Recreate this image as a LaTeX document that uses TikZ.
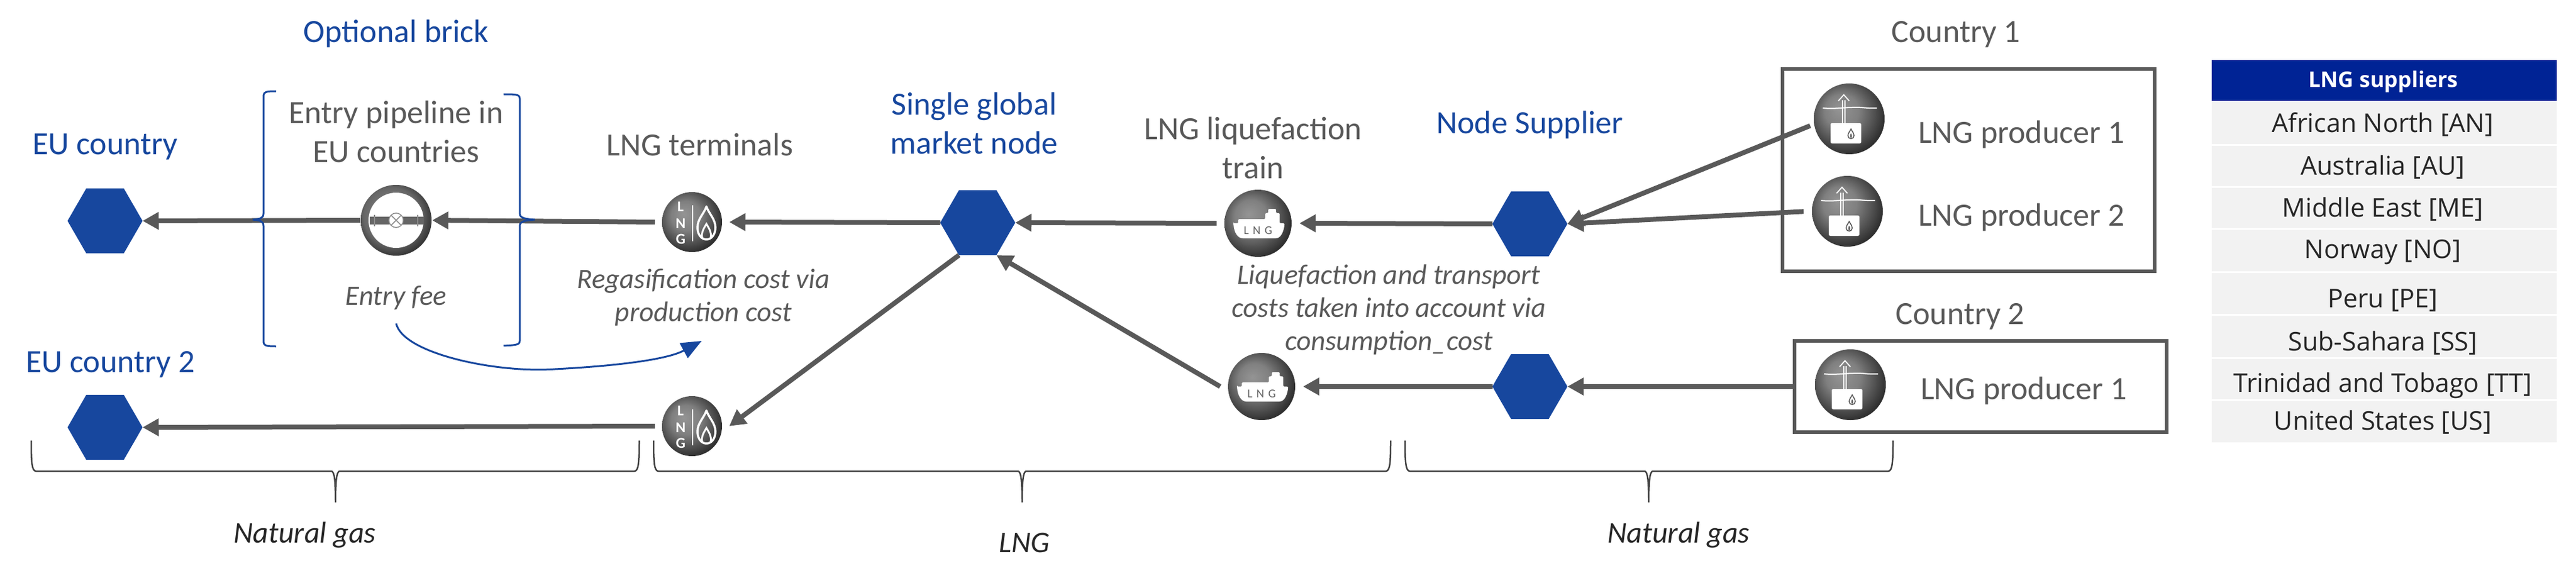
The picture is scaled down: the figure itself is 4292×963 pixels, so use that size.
\documentclass[tikz,border=0pt]{standalone}
\usepackage{fontspec}
\setmainfont{Carlito}
\newfontfamily\tablefont{Open Sans}
\usetikzlibrary{arrows.meta,shapes.geometric}
\definecolor{bluehex}{HTML}{17479E}
\definecolor{arrowgrey}{HTML}{595959}
\definecolor{textgrey}{HTML}{595959}
\definecolor{darktext}{HTML}{262626}
\definecolor{tablehead}{HTML}{002395}
\definecolor{tablerow}{HTML}{F2F2F2}
\pgfdeclareradialshading{iconball}{\pgfpoint{-7bp}{7bp}}{color(0bp)=(black!42);color(12bp)=(black!50);color(25bp)=(black!75);color(30bp)=(black!85);color(50bp)=(black!85)}
\pgfdeclareradialshading{ringball}{\pgfpoint{-5bp}{5bp}}{color(0bp)=(black!45);color(20bp)=(black!60);color(30bp)=(black!85);color(50bp)=(black!85)}
\tikzset{
  hexnode/.style={regular polygon,regular polygon sides=6,fill=bluehex,draw=none,inner sep=0pt,outer sep=0pt,minimum size=125pt},
  termball/.style={circle,shading=iconball,inner sep=0pt,minimum size=100pt,outer sep=12pt},
  shipball/.style={circle,shading=iconball,inner sep=0pt,minimum size=112pt,outer sep=13pt},
  prodball/.style={circle,shading=iconball,inner sep=0pt,minimum size=118pt,outer sep=7pt},
  valveball/.style={circle,shading=ringball,inner sep=0pt,minimum size=118pt,outer sep=1pt},
  flowarrow/.style={draw=arrowgrey,line width=8pt,-{Triangle[length=27pt,width=28pt]}},
  bluelabel/.style={text=bluehex,font=\fontsize{54}{65}\selectfont,align=center,inner sep=0pt},
  greylabel/.style={text=textgrey,font=\fontsize{54}{65}\selectfont,align=center,inner sep=0pt},
  notelabel/.style={text=textgrey,font=\fontsize{47}{55}\selectfont\itshape,align=center,inner sep=0pt},
  spanlabel/.style={text=darktext,font=\fontsize{50}{60}\selectfont\itshape,align=center,inner sep=0pt},
  countrybox/.style={draw=arrowgrey,line width=6pt,fill=none,inner sep=0pt,outer sep=0pt},
  spanbrace/.style={draw=black!75,line width=2.5pt},
  bracket/.style={draw=bluehex,line width=3pt},
  tabletext/.style={text=darktext,font=\tablefont\fontsize{43}{50}\selectfont,inner sep=0pt},
  icontext/.style={text=white,font=\bfseries\fontsize{25}{25}\selectfont,inner sep=0pt},
  termicon/.pic={
    \node[icontext] (l) at (-19,-26) {L};
    \node[icontext] (n) at (-19,2) {N};
    \node[icontext] (g) at (-19,28) {G};
    \draw[white,line width=2.5pt] (1,-28) -- (1,32);
    \draw[white,line width=3.5pt,line join=round] (24,-26) .. controls (28,-14) and (39,-5) .. (39,9) .. controls (39,21) and (32,29) .. (24,29) .. controls (16,29) and (9,21) .. (9,9) .. controls (9,-5) and (20,-14) .. (24,-26) -- cycle;
    \draw[white,line width=3pt] (17,26) .. controls (15,17) and (20,10) .. (24,3) .. controls (28,10) and (33,17) .. (31,26);
  },
  shipicon/.pic={
    \fill[white,rounded corners=1.5pt] (-41,0) -- (-33,0) -- (-33,-7) -- (12,-7) -- (12,-17) -- (17,-17) -- (17,-24) -- (30,-24) -- (30,-17) -- (36,-17) -- (36,0) -- (44,0) -- (44,4) .. controls (42,15) and (38,25) .. (28,25) -- (-24,25) .. controls (-34,25) and (-40,15) .. (-41,0) -- cycle;
    \node[text=black!60,font=\fontsize{20}{20}\selectfont,inner sep=0pt] (t) at (0,12) {L\,\,N\,\,G};
  },
  prodicon/.pic={
    \draw[white,line width=1.6pt] (-11,-31) -- (-11,8) (-7,-31) -- (-7,8);
    \draw[white,line width=1.8pt] (-18,-30) -- (-9,-40) -- (0,-30);
    \draw[white,line width=2pt] (-44,-18) .. controls (-25,-16) and (-10,-19) .. (5,-19) .. controls (20,-20) and (30,-17) .. (46,-18);
    \fill[white,rounded corners=2.5pt] (-31,7) rectangle (20,41);
    \draw[black!65,line width=1.6pt] (3,17) .. controls (5,21) and (8,24) .. (8,28) .. controls (8,31) and (6,33) .. (3,33) .. controls (0,33) and (-2,31) .. (-2,28) .. controls (-2,24) and (1,21) .. (3,17) -- cycle;
    \fill[black!65] (3,24) .. controls (5,27) and (5,31) .. (3,32) .. controls (1,31) and (1,27) .. (3,24) -- cycle;
  },
  valveicon/.pic={
    \fill[white] (0,0) circle (46);
    \fill[black!60] (-44,-6) rectangle (46,7);
    \draw[black!45,line width=1.5pt] (-36,-9) -- (-36,10) (36,-9) -- (36,10);
    \draw[black!45,fill=white,line width=1.5pt] (0,0) circle (12);
    \draw[black!45,line width=1.5pt] (-8,-8) -- (8,8) (-8,8) -- (8,-8);
  }
}
\newcommand{\spanbr}[3]{%
  \draw[spanbrace] (#1,734) .. controls (#1,770) and (#1+1,785) .. (#1+8,785) -- (#2-7,785) .. controls (#2-2,785) and (#2,800) .. (#2,837) .. controls (#2,800) and (#2+2,785) .. (#2+7,785) -- (#3-8,785) .. controls (#3-1,785) and (#3,770) .. (#3,734);}
\begin{document}
\begin{tikzpicture}[x=1pt,y=-1pt]
\path[use as bounding box] (0,0) rectangle (4292,963);
% hexagons
\node[hexnode] (eu1) at (175,368) {};
\node[hexnode] (eu2) at (175,712) {};
\node[hexnode] (market) at (1629,371) {};
\node[hexnode] (sup1) at (2549,373) {};
\node[hexnode] (sup2) at (2549,644) {};
% icons
\node[valveball] (valve) at (660,367) {};
\pic (vi) at (valve) {valveicon};
\node[termball] (term1) at (1153,370) {};
\pic (ti) at (term1) {termicon};
\node[termball] (term2) at (1153,710) {};
\pic (tj) at (term2) {termicon};
\node[shipball] (ship1) at (2096,372) {};
\pic (si) at (ship1) {shipicon};
\node[shipball] (ship2) at (2102,644) {};
\pic (sj) at (ship2) {shipicon};
% country boxes
\node[countrybox,minimum width=620pt,minimum height=337pt] (box1) at (3280,283.5) {};
\node[countrybox,minimum width=620pt,minimum height=152pt] (box2) at (3300,644) {};
\node[prodball] (p1) at (3081,198) {};
\pic (pi) at (p1) {prodicon};
\node[prodball] (p2) at (3078,352) {};
\pic (pj) at (p2) {prodicon};
\node[prodball] (p3) at (3083,641) {};
\pic (pk) at (p3) {prodicon};
% flow arrows
\draw[flowarrow] (valve.west) -- (eu1.corner 6);
\draw[flowarrow] (term1.west) -- (valve.east);
\draw[flowarrow] (market.corner 3) -- (term1.east);
\draw[flowarrow] (ship1.west) -- (market.corner 6);
\draw[flowarrow] (sup1.corner 3) -- (ship1.east);
\draw[flowarrow] (sup2.corner 3) -- (ship2.east);
\draw[flowarrow] (ship2.west) -- (market.corner 5);
\draw[flowarrow] (market.corner 4) -- (term2.east);
\draw[flowarrow] (term2.west) -- (eu2.corner 6);
\draw[flowarrow] (p1.190) -- (sup1.corner 6);
\draw[flowarrow,shorten <=7pt] (p2.west) -- (sup1.corner 6);
\draw[flowarrow] (box2.west) -- (sup2.corner 6);
% brackets of the optional brick
\draw[bracket] (460,152) .. controls (447,152) and (439,152) .. (439,160) -- (439,356) .. controls (439,364) and (432,365) .. (421,366) .. controls (432,367) and (439,368) .. (439,376) -- (439,569) .. controls (439,577) and (447,577) .. (460,577);
\draw[bracket] (839,157) .. controls (858,157) and (866,157) .. (866,164) -- (866,356) .. controls (866,364) and (878,365) .. (891,366) .. controls (878,367) and (866,368) .. (866,376) -- (866,568) .. controls (866,575) and (858,575) .. (839,576);
\draw[bracket,-{Triangle[length=34pt,width=28pt]},fill=none] (660,539) .. controls (672,590) and (830,622) .. (925,615) .. controls (1020,610) and (1110,600) .. (1169,568);
% spans
\spanbr{52}{559}{1065}
\spanbr{1089}{1703}{2317}
\spanbr{2341}{2747}{3154}
% labels
\node[bluelabel] (lbrick) at (660,56) {Optional brick};
\node[bluelabel] (leu1) at (175,245) {EU country};
\node[bluelabel] (leu2) at (184,607) {EU country 2};
\node[bluelabel] (lmarket) at (1623,205) {Single global\\market node};
\node[bluelabel] (lsup) at (2549,208) {Node Supplier};
\node[greylabel] (lentry) at (660,219) {Entry pipeline in\\EU countries};
\node[greylabel] (lterm) at (1166,241) {LNG terminals};
\node[greylabel] (lliq) at (2088,246) {LNG liquefaction\\train};
\node[greylabel] (lc1) at (3259,57) {Country 1};
\node[greylabel] (lc2) at (3266,527) {Country 2};
\node[greylabel] (lp1) at (3368,224) {LNG producer 1};
\node[greylabel] (lp2) at (3368,362) {LNG producer 2};
\node[greylabel] (lp3) at (3372,651) {LNG producer 1};
\node[notelabel] (nfee) at (660,496) {Entry fee};
\node[notelabel] (nreg) at (1172,496) {Regasification cost via\\production cost};
\node[notelabel] (nliq) at (2314,516) {Liquefaction and transport\\costs taken into account via\\consumption\_cost};
\node[spanlabel] (sng1) at (508,891) {Natural gas};
\node[spanlabel] (slng) at (1707,904) {LNG};
\node[spanlabel] (sng2) at (2797,891) {Natural gas};
% table
\fill[tablehead] (3685,100) rectangle (4260,168);
\node[tabletext,text=white,font=\tablefont\bfseries\fontsize{36}{42}\selectfont] (thead) at (3971,136) {LNG suppliers};
\foreach \ya/\yb/\yt/\rowtext/\rid in {170/240/207/{African North [AN]}/a,243/310/279/{Australia [AU]}/b,313/380/349/{Middle East [ME]}/c,383/452/420/{Norway [NO]}/d,455/523/501/{Peru [PE]}/e,526/595/572/{Sub-Sahara [SS]}/f,598/665/642/{Trinidad and Tobago [TT]}/g,668/737/704/{United States [US]}/h}{
  \fill[tablerow] (3685,\ya) rectangle (4260,\yb);
  \node[tabletext] (row\rid) at (3970,\yt) {\rowtext};
}
\end{tikzpicture}
\end{document}
